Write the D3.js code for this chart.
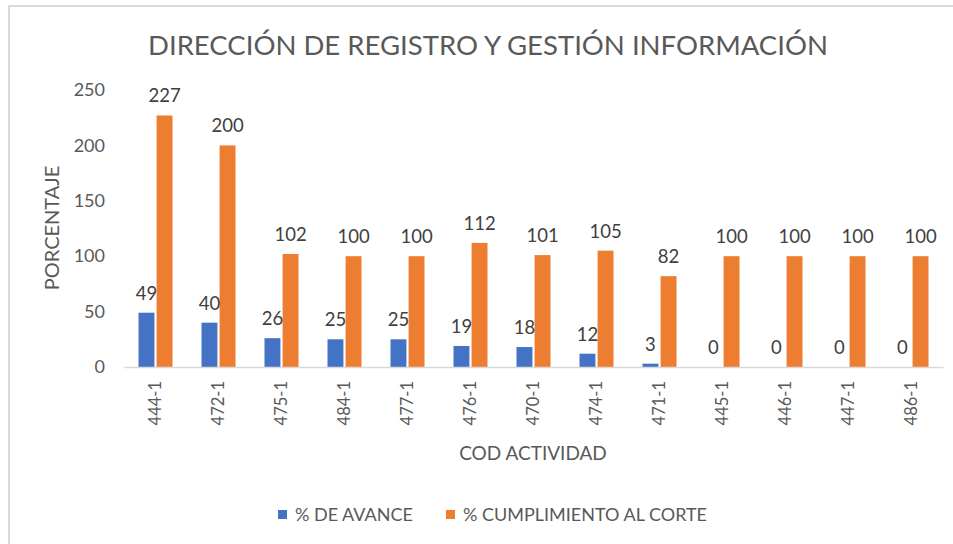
<!DOCTYPE html>
<html>
<head>
<meta charset="utf-8">
<script src="https://cdn.jsdelivr.net/npm/d3@7"></script>
<style>
  body { margin: 0; background: #fff; }
  svg { display: block; font-family: Lato, "Open Sans", sans-serif; }
</style>
</head>
<body>
<script>
const categories = ["444-1", "472-1", "475-1", "484-1", "477-1", "476-1", "470-1", "474-1", "471-1", "445-1", "446-1", "447-1", "486-1"];
const avance = [49, 40, 26, 25, 25, 19, 18, 12, 3, 0, 0, 0, 0];
const cumplimiento = [227, 200, 102, 100, 100, 112, 101, 105, 82, 100, 100, 100, 100];
const seriesNames = ["% DE AVANCE", "% CUMPLIMIENTO AL CORTE"];
const seriesColors = ["#4472C4", "#ED7D31"];
const yTicks = [0, 50, 100, 150, 200, 250];

const width = 953, height = 544;
const x0 = 124, x1 = 943, yBase = 367, yTop = 90;
const textColor = "#595959";

const svg = d3.select("body").append("svg")
  .attr("width", width)
  .attr("height", height);

// chart-area border (only top/left visible in the crop)
svg.append("path")
  .attr("d", `M9,${height} V6 H${width}`)
  .attr("fill", "none")
  .attr("stroke", "#d9d9d9")
  .attr("stroke-width", 2);

svg.append("text")
  .attr("x", 488).attr("y", 55)
  .attr("text-anchor", "middle")
  .attr("font-size", 27.5)
  .attr("fill", textColor)
  .text("DIRECCIÓN DE REGISTRO Y GESTIÓN INFORMACIÓN");

const x = d3.scaleBand().domain(categories).range([x0, x1]);
const xs = d3.scaleBand().domain([0, 1]).range([-17, 17]).paddingInner(0.12);
const y = d3.scaleLinear().domain([0, 250]).range([yBase, yTop]);

// y axis labels (no line)
const yAxis = svg.append("g")
  .attr("transform", `translate(${x0},0)`)
  .call(d3.axisLeft(y).tickValues(yTicks).tickSize(0).tickPadding(19));
yAxis.select(".domain").remove();
yAxis.selectAll("text")
  .attr("font-size", 18)
  .attr("font-family", "Lato, sans-serif")
  .attr("fill", textColor);

// bars
const data = categories.map((c, i) => ({ c, vals: [avance[i], cumplimiento[i]] }));
const groups = svg.append("g").selectAll("g")
  .data(data).join("g")
  .attr("transform", d => `translate(${x(d.c) + x.bandwidth() / 2},0)`);

groups.selectAll("rect")
  .data(d => d.vals.map((v, k) => ({ v, k })))
  .join("rect")
  .attr("x", d => xs(d.k))
  .attr("width", xs.bandwidth())
  .attr("y", d => y(d.v))
  .attr("height", d => yBase - y(d.v))
  .attr("fill", d => seriesColors[d.k]);

groups.selectAll("text.lbl")
  .data(d => d.vals.map((v, k) => ({ v, k })))
  .join("text")
  .attr("class", "lbl")
  .attr("x", d => xs(d.k) + xs.bandwidth() / 2)
  .attr("y", d => y(d.v) - 13)
  .attr("text-anchor", "middle")
  .attr("font-size", 18.5)
  .attr("fill", "#404040")
  .text(d => d.v);

// x axis
const xAxis = svg.append("g")
  .attr("transform", `translate(0,${yBase})`)
  .call(d3.axisBottom(x).tickSize(0).tickPadding(0));
xAxis.select(".domain").attr("stroke", "#d9d9d9").attr("stroke-width", 1.5);
xAxis.selectAll("text")
  .attr("font-size", 16.5)
  .attr("font-family", "Lato, sans-serif")
  .attr("fill", textColor)
  .attr("text-anchor", "end")
  .attr("transform", "rotate(-90)")
  .attr("x", -14)
  .attr("y", 0)
  .attr("dy", "0.35em");

// axis titles
svg.append("text")
  .attr("transform", `translate(59,228) rotate(-90)`)
  .attr("text-anchor", "middle")
  .attr("font-size", 20)
  .attr("fill", textColor)
  .text("PORCENTAJE");

svg.append("text")
  .attr("x", 533).attr("y", 460)
  .attr("text-anchor", "middle")
  .attr("font-size", 19)
  .attr("fill", textColor)
  .text("COD ACTIVIDAD");

// legend
const legendX = [278, 446];
const legend = svg.append("g").selectAll("g")
  .data(seriesNames).join("g")
  .attr("transform", (d, i) => `translate(${legendX[i]},510)`);
legend.append("rect")
  .attr("width", 9).attr("height", 9)
  .attr("fill", (d, i) => seriesColors[i]);
legend.append("text")
  .attr("x", 17).attr("y", 5)
  .attr("dy", "0.35em")
  .attr("font-size", 18)
  .attr("fill", textColor)
  .text(d => d);
</script>
</body>
</html>
